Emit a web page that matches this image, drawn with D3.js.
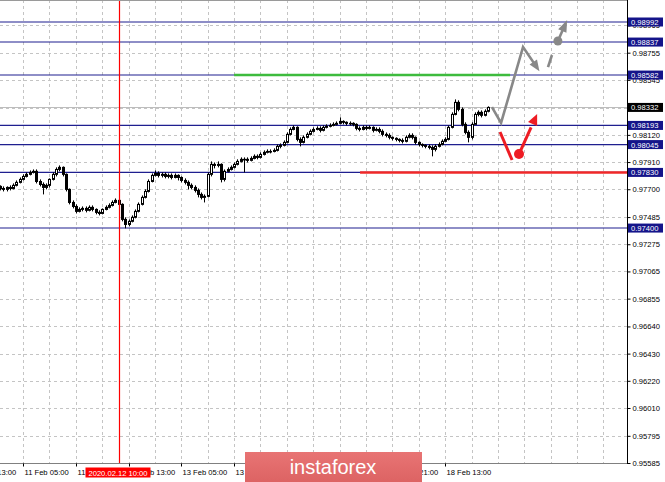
<!DOCTYPE html>
<html><head><meta charset="utf-8">
<script src="https://cdn.jsdelivr.net/npm/d3@7"></script>
<style>
html,body{margin:0;padding:0;background:#fff;}
svg{display:block;}
text{font-family:"Liberation Sans",Arial,sans-serif;}
</style></head>
<body>
<svg id="chart" width="665" height="482"></svg>
<script>
// ---- data (H1 candles, bar 0 = 10 Feb 22:00) ----
const open = [0.97722,0.97706,0.97699,0.97714,0.97706,0.97730,0.97753,0.97776,0.97799,0.97815,0.97830,0.97838,0.97760,0.97737,0.97714,0.97730,0.97776,0.97815,0.97853,0.97869,0.97815,0.97699,0.97598,0.97567,0.97529,0.97544,0.97552,0.97537,0.97560,0.97544,0.97521,0.97513,0.97544,0.97560,0.97575,0.97598,0.97614,0.97583,0.97467,0.97428,0.97452,0.97483,0.97529,0.97583,0.97637,0.97683,0.97760,0.97807,0.97822,0.97807,0.97815,0.97799,0.97807,0.97791,0.97807,0.97791,0.97768,0.97753,0.97730,0.97714,0.97691,0.97660,0.97637,0.97645,0.97815,0.97892,0.97884,0.97892,0.97776,0.97838,0.97853,0.97869,0.97892,0.97915,0.97931,0.97931,0.97923,0.97938,0.97954,0.97946,0.97969,0.97985,0.97992,0.97992,0.98000,0.98031,0.98039,0.98062,0.98124,0.98162,0.98178,0.98085,0.98062,0.98101,0.98124,0.98147,0.98162,0.98170,0.98155,0.98178,0.98186,0.98193,0.98201,0.98209,0.98224,0.98217,0.98209,0.98209,0.98201,0.98170,0.98162,0.98178,0.98170,0.98178,0.98155,0.98162,0.98147,0.98124,0.98116,0.98101,0.98093,0.98085,0.98077,0.98070,0.98101,0.98116,0.98101,0.98062,0.98046,0.98039,0.98031,0.98023,0.98008,0.98031,0.98046,0.98070,0.98085,0.98178,0.98278,0.98371,0.98317,0.98201,0.98139,0.98101,0.98201,0.98278,0.98294,0.98271,0.98302];
const high = [0.97730,0.97722,0.97722,0.97730,0.97745,0.97768,0.97791,0.97815,0.97830,0.97845,0.97853,0.97853,0.97776,0.97753,0.97745,0.97784,0.97830,0.97869,0.97884,0.97876,0.97822,0.97706,0.97614,0.97583,0.97560,0.97567,0.97567,0.97575,0.97575,0.97552,0.97537,0.97552,0.97575,0.97591,0.97614,0.97629,0.97637,0.97591,0.97483,0.97467,0.97498,0.97544,0.97598,0.97652,0.97699,0.97776,0.97822,0.97845,0.97838,0.97830,0.97830,0.97822,0.97822,0.97822,0.97815,0.97799,0.97784,0.97768,0.97745,0.97730,0.97706,0.97675,0.97660,0.97830,0.97915,0.97907,0.97915,0.97900,0.97853,0.97869,0.97884,0.97907,0.97931,0.97946,0.97946,0.97946,0.97954,0.97969,0.97969,0.97985,0.98000,0.98008,0.98008,0.98016,0.98046,0.98054,0.98077,0.98139,0.98178,0.98193,0.98186,0.98101,0.98116,0.98139,0.98162,0.98178,0.98186,0.98186,0.98193,0.98201,0.98209,0.98217,0.98224,0.98255,0.98232,0.98224,0.98224,0.98217,0.98209,0.98186,0.98193,0.98193,0.98193,0.98186,0.98178,0.98178,0.98162,0.98139,0.98132,0.98108,0.98101,0.98093,0.98093,0.98116,0.98132,0.98132,0.98108,0.98070,0.98054,0.98046,0.98046,0.98039,0.98046,0.98062,0.98085,0.98101,0.98193,0.98294,0.98394,0.98387,0.98332,0.98217,0.98155,0.98217,0.98294,0.98309,0.98309,0.98317,0.98340];
const low = [0.97691,0.97683,0.97683,0.97691,0.97699,0.97722,0.97745,0.97768,0.97791,0.97807,0.97822,0.97745,0.97722,0.97660,0.97699,0.97714,0.97768,0.97799,0.97838,0.97799,0.97683,0.97583,0.97552,0.97513,0.97521,0.97529,0.97521,0.97529,0.97529,0.97506,0.97498,0.97506,0.97537,0.97552,0.97567,0.97591,0.97567,0.97452,0.97398,0.97413,0.97444,0.97475,0.97521,0.97575,0.97629,0.97675,0.97753,0.97799,0.97791,0.97791,0.97784,0.97784,0.97776,0.97784,0.97768,0.97753,0.97737,0.97699,0.97699,0.97675,0.97637,0.97621,0.97598,0.97637,0.97799,0.97861,0.97869,0.97753,0.97760,0.97830,0.97845,0.97861,0.97884,0.97907,0.97830,0.97907,0.97915,0.97931,0.97931,0.97938,0.97961,0.97977,0.97977,0.97985,0.97992,0.98016,0.98031,0.98054,0.98116,0.98155,0.98070,0.98031,0.98054,0.98093,0.98116,0.98139,0.98155,0.98139,0.98147,0.98170,0.98178,0.98186,0.98193,0.98201,0.98201,0.98193,0.98193,0.98186,0.98155,0.98147,0.98155,0.98155,0.98162,0.98139,0.98147,0.98132,0.98108,0.98101,0.98085,0.98077,0.98070,0.98062,0.98054,0.98062,0.98093,0.98085,0.98046,0.98031,0.98023,0.98016,0.98008,0.97954,0.97992,0.98023,0.98039,0.98062,0.98077,0.98170,0.98271,0.98302,0.98186,0.98124,0.98062,0.98085,0.98209,0.98263,0.98255,0.98263,0.98294];
const close = [0.97706,0.97699,0.97714,0.97706,0.97730,0.97753,0.97776,0.97799,0.97815,0.97830,0.97838,0.97760,0.97737,0.97714,0.97730,0.97776,0.97815,0.97853,0.97869,0.97815,0.97699,0.97598,0.97567,0.97529,0.97544,0.97552,0.97537,0.97560,0.97544,0.97521,0.97513,0.97544,0.97560,0.97575,0.97598,0.97614,0.97583,0.97467,0.97428,0.97452,0.97483,0.97529,0.97583,0.97637,0.97683,0.97760,0.97807,0.97822,0.97807,0.97815,0.97799,0.97807,0.97791,0.97807,0.97791,0.97768,0.97753,0.97730,0.97714,0.97691,0.97660,0.97637,0.97645,0.97815,0.97892,0.97884,0.97892,0.97776,0.97838,0.97853,0.97869,0.97892,0.97915,0.97931,0.97931,0.97923,0.97938,0.97954,0.97946,0.97969,0.97985,0.97992,0.97992,0.98000,0.98031,0.98039,0.98062,0.98124,0.98162,0.98178,0.98085,0.98062,0.98101,0.98124,0.98147,0.98162,0.98170,0.98155,0.98178,0.98186,0.98193,0.98201,0.98209,0.98224,0.98217,0.98209,0.98209,0.98201,0.98170,0.98162,0.98178,0.98170,0.98178,0.98155,0.98162,0.98147,0.98124,0.98116,0.98101,0.98093,0.98085,0.98077,0.98070,0.98101,0.98116,0.98101,0.98062,0.98046,0.98039,0.98031,0.98023,0.98008,0.98031,0.98046,0.98070,0.98085,0.98178,0.98278,0.98371,0.98317,0.98201,0.98139,0.98101,0.98201,0.98278,0.98294,0.98271,0.98302,0.98332];

const priceTicks = [0.95585,0.95795,0.96010,0.96220,0.96430,0.96640,0.96855,0.97065,0.97275,0.97485,0.97700,0.97910,0.98120,0.98330,0.98545,0.98755,0.98965];
const timeTickIdx = [-9,7,23,39,55,71,87,103,119,135];
const timeTickLabels = ["10 Feb 13:00","11 Feb 05:00","11 Feb 21:00","12 Feb 13:00","13 Feb 05:00","13 Feb 21:00","14 Feb 13:00","17 Feb 05:00","17 Feb 21:00","18 Feb 13:00"];
const gridIdx = [-1,7,15,23,31,39,47,55,63,71,79,87,95,103,111,119,127,135,143,151,159,167,175,183];

const levels = [0.98992,0.98837,0.98582,0.98193,0.98045,0.97830,0.97400];
const bidPrice = 0.98332;
const markerIdx = 36, markerLabel = "2020.02.12 10:00";
const greenLevel = {price:0.98582, from:71, to:154.7};
const redLevel = {price:0.97830, from:109.2, to:191};
// forecast arrows (bar index, price)
const grayPath = [[149.2,0.98335],[151.96,0.98212],[158.63,0.98799],[163.6,0.98612]];
const grayDash = [[166.2,0.98644],[167.4,0.98737]];
const grayCircle = [169.2,0.98845];
const grayTip = [172.0,0.99007];
const redStroke = [[151.65,0.98142],[155.3,0.97926]];
const redCircle = [157.4,0.97972];
const redTip = [162.9,0.98281];

// ---- scales ----
const plotR = 627, plotB = 463;
const x = d3.scaleLinear().domain([0,148]).range([0,488]);
const y = d3.scaleLinear().domain([0.95585,0.98992]).range([463,22]);
const px = v => Math.round(x(v)) + 0.5;

const svg = d3.select("#chart");
const defs = svg.append("defs");
defs.append("clipPath").attr("id","clip")
  .append("rect").attr("x",0).attr("y",0).attr("width",plotR).attr("height",plotB);
const plot = svg.append("g").attr("clip-path","url(#clip)");

// grid
plot.append("g").selectAll("line").data(priceTicks.slice(1)).join("line")
  .attr("x1",0).attr("x2",plotR)
  .attr("y1",d=>Math.round(y(d))+0.5).attr("y2",d=>Math.round(y(d))+0.5)
  .attr("stroke","#c4c4c4").attr("stroke-dasharray","3,3");
plot.append("g").selectAll("line").data(gridIdx).join("line")
  .attr("x1",px).attr("x2",px)
  .attr("y1",0).attr("y2",plotB)
  .attr("stroke","#c4c4c4").attr("stroke-dasharray","3,3");

// bid line
plot.append("line").attr("x1",0).attr("x2",plotR)
  .attr("y1",Math.round(y(bidPrice))+0.5).attr("y2",Math.round(y(bidPrice))+0.5)
  .attr("stroke","#bdbdbd");

// levels
plot.append("g").selectAll("line").data(levels).join("line")
  .attr("x1",0).attr("x2",plotR)
  .attr("y1",d=>y(d)).attr("y2",d=>y(d))
  .attr("stroke","#1f1f8f").attr("stroke-width",1.1);

// green and red thick levels
plot.append("line").attr("x1",x(greenLevel.from)).attr("x2",x(greenLevel.to))
  .attr("y1",y(greenLevel.price)).attr("y2",y(greenLevel.price))
  .attr("stroke","#3dbb3d").attr("stroke-width",2.5);
plot.append("line").attr("x1",x(redLevel.from)).attr("x2",x(redLevel.to))
  .attr("y1",y(redLevel.price)).attr("y2",y(redLevel.price))
  .attr("stroke","#f02828").attr("stroke-width",2.5);

// candles
const idx = d3.range(close.length);
const cg = plot.append("g");
cg.selectAll("line").data(idx).join("line")
  .attr("x1",i=>px(i)).attr("x2",i=>px(i))
  .attr("y1",i=>y(high[i])).attr("y2",i=>y(low[i]))
  .attr("stroke","#000").attr("stroke-width",1);
cg.selectAll("rect").data(idx).join("rect")
  .attr("x",i=>px(i)-1).attr("width",2)
  .attr("y",i=>y(Math.max(open[i],close[i])))
  .attr("height",i=>Math.max(0.6,Math.abs(y(open[i])-y(close[i]))))
  .attr("fill",i=>close[i]>open[i]?"#fff":"#000")
  .attr("stroke","#000").attr("stroke-width",1);

// marker vertical (drawn over candles, as in the terminal)
plot.append("line").attr("class","marker")
  .attr("x1",px(markerIdx)).attr("x2",px(markerIdx))
  .attr("y1",0).attr("y2",plotB)
  .style("stroke","#ff0000").style("stroke-width","1.2px");

// arrows
const lg = d3.line().x(d=>x(d[0])).y(d=>y(d[1]));
function arrowHead(g, from, to, color, len, wid){
  const x1=x(from[0]), y1=y(from[1]), x2=x(to[0]), y2=y(to[1]);
  const a=Math.atan2(y2-y1,x2-x1);
  const bx=x2-len*Math.cos(a), by=y2-len*Math.sin(a);
  const ox=-Math.sin(a)*wid/2, oy=Math.cos(a)*wid/2;
  g.append("path").attr("d",`M${x2},${y2}L${bx+ox},${by+oy}L${bx-ox},${by-oy}Z`).attr("fill",color);
}
const ag = plot.append("g");
const gray = "#888888", red = "#ee1c24";
const gEnd = [(grayPath[2][0]+grayPath[3][0]*3)/4, (grayPath[2][1]+grayPath[3][1]*3)/4];
ag.append("path").attr("d",lg(grayPath.slice(0,3).concat([gEnd])))
  .attr("fill","none").attr("stroke",gray).attr("stroke-width",2.6).attr("stroke-linejoin","miter");
arrowHead(ag, grayPath[2], grayPath[3], gray, 11, 9);
ag.append("path").attr("d",lg(grayDash)).attr("stroke",gray).attr("stroke-width",2.6).attr("fill","none");
ag.append("circle").attr("cx",x(grayCircle[0])).attr("cy",y(grayCircle[1])).attr("r",4.5).attr("fill",gray);
ag.append("line").attr("x1",x(grayCircle[0])).attr("y1",y(grayCircle[1]))
  .attr("x2",(x(grayCircle[0])+x(grayTip[0])*2)/3).attr("y2",(y(grayCircle[1])+y(grayTip[1])*2)/3)
  .attr("stroke",gray).attr("stroke-width",2.6);
arrowHead(ag, grayCircle, grayTip, gray, 12, 9);
ag.append("path").attr("d",lg(redStroke)).attr("stroke",red).attr("stroke-width",3).attr("fill","none");
ag.append("circle").attr("cx",x(redCircle[0])).attr("cy",y(redCircle[1])).attr("r",5).attr("fill",red);
ag.append("line").attr("x1",x(redCircle[0])).attr("y1",y(redCircle[1]))
  .attr("x2",(x(redCircle[0])+x(redTip[0])*2)/3).attr("y2",(y(redCircle[1])+y(redTip[1])*2)/3)
  .attr("stroke",red).attr("stroke-width",3);
arrowHead(ag, redCircle, redTip, red, 11, 10);

// frame
svg.append("line").attr("x1",0).attr("x2",plotR).attr("y1",0.5).attr("y2",0.5).attr("stroke","#9a9a9a");
svg.append("line").attr("x1",0).attr("x2",plotR+0.5).attr("y1",plotB+0.5).attr("y2",plotB+0.5).attr("stroke","#808080");
svg.append("line").attr("x1",plotR+0.5).attr("x2",plotR+0.5).attr("y1",0).attr("y2",plotB+1).attr("stroke","#000");

// right axis
const ra = svg.append("g").attr("transform",`translate(${plotR+0.5},0)`)
  .call(d3.axisRight(y).tickValues(priceTicks).tickFormat(d3.format(".5f")).tickSize(3).tickPadding(2));
ra.select(".domain").remove();
ra.selectAll("line").attr("stroke","#000");
ra.selectAll("text").attr("font-size","7.6px").attr("fill","#000").attr("font-family","Liberation Sans, Arial, sans-serif");

// bottom axis
const ba = svg.append("g").attr("transform",`translate(0,${plotB+0.5})`)
  .call(d3.axisBottom(x).tickValues(timeTickIdx).tickFormat((d,i)=>timeTickLabels[i]).tickSize(3).tickPadding(3));
ba.select(".domain").remove();
ba.selectAll(".tick line").attr("stroke","#000");
ba.selectAll(".tick").attr("transform",d=>`translate(${px(d)},0)`);
ba.selectAll("text").attr("text-anchor","start").attr("x",1).attr("font-size","7.6px").attr("fill","#000").attr("font-family","Liberation Sans, Arial, sans-serif");

// level price boxes
const boxes = levels.map(v=>({v, bg:"#14148a"})).concat([{v:bidPrice,bg:"#000"}]);
const bxg = svg.append("g");
boxes.forEach(b=>{
  const cy = y(b.v);
  bxg.append("rect").attr("x",628).attr("y",cy-4.5).attr("width",35).attr("height",9).attr("fill",b.bg);
  bxg.append("text").attr("x",631).attr("y",cy+3).attr("font-size","7.6px").attr("fill","#fff")
    .text(d3.format(".5f")(b.v));
});

// marker time box
const mx = px(markerIdx);
svg.append("rect").attr("x",mx-34).attr("y",467.5).attr("width",65).attr("height",10).attr("fill","#ff0000");
svg.append("text").attr("x",mx-1.5).attr("y",475.5).attr("text-anchor","middle").attr("font-size","7.6px").attr("fill","#fff").text(markerLabel);

// logo
const lgd = defs.append("linearGradient").attr("id","lgrad").attr("x1",0).attr("x2",0).attr("y1",0).attr("y2",1);
lgd.append("stop").attr("offset","0").attr("stop-color","#e87474");
lgd.append("stop").attr("offset","1").attr("stop-color","#dc6262");
svg.append("rect").attr("x",245).attr("y",452).attr("width",177).attr("height",32).attr("fill","url(#lgrad)");
svg.append("text").attr("x",333).attr("y",473.5).attr("text-anchor","middle").attr("font-family","Open Sans, sans-serif")
  .attr("font-size","20px").attr("fill","#fff").text("instaforex");
</script>
</body></html>
